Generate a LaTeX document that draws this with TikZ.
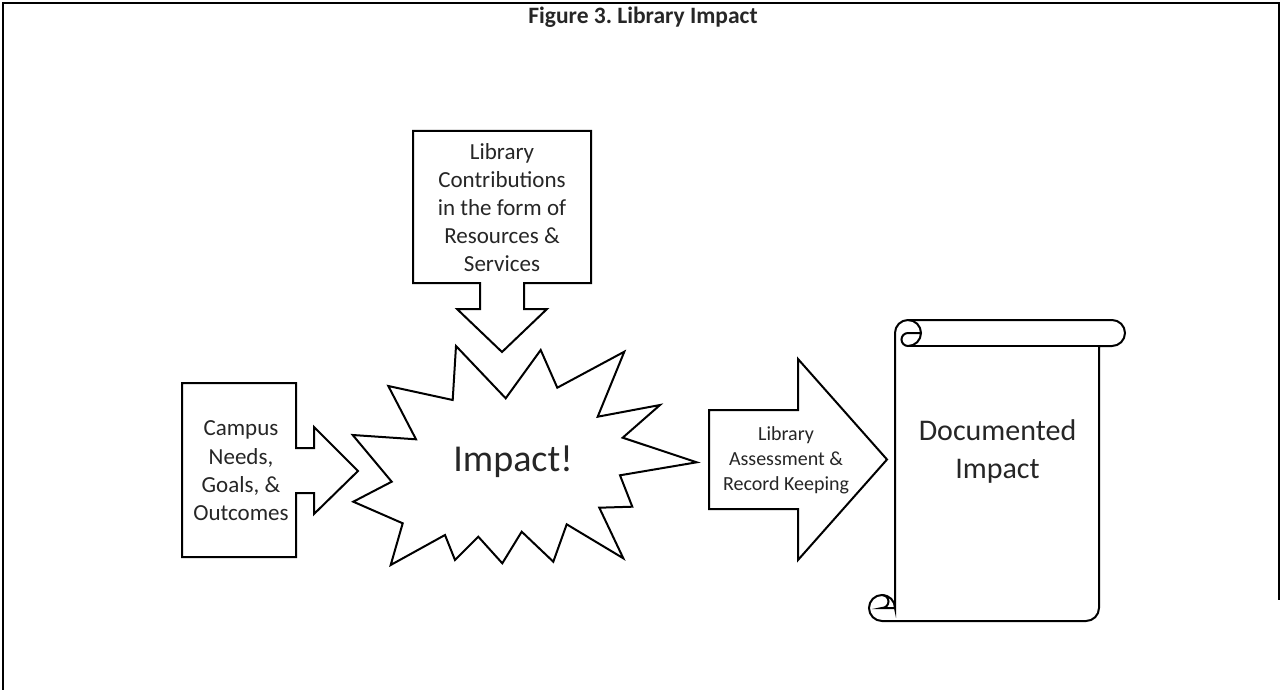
\documentclass[tikz,border=0pt]{standalone}
\usepackage{fontspec}
\setmainfont{Carlito}
\definecolor{txt}{HTML}{262626}
\frenchspacing
\begin{document}
\begin{tikzpicture}[x=1pt,y=-1pt,
  shp/.style={draw=black, line width=2pt, fill=white, line join=miter, miter limit=20},
  lbl/.style={text=txt, align=center, inner sep=0pt},
  frameline/.style={draw=black, line width=1.6pt}]
\useasboundingbox (0,0) rectangle (1282,690);
% frame
\draw[frameline] (3,690) -- (3,3) -- (1279,3) -- (1279,600);
% title
\node[lbl, font=\bfseries\fontsize{23.5}{28}\selectfont] (title) at (643,17) {Figure 3. Library Impact};
% top callout (down arrow)
\draw[shp] (413,131) -- (591,131) -- (591,283) -- (524,283) -- (524,309) -- (547,309)
  -- (502,352) -- (457,309) -- (480,309) -- (480,283) -- (413,283) -- cycle;
\node[lbl, font=\fontsize{23}{28}\selectfont] (contrib) at (502,208)
  {Library\\Contributions\\in the form of\\Resources \&\\Services};
% left callout (right arrow)
\draw[shp] (182,383) -- (296,383) -- (296,448) -- (314,448) -- (314,427) -- (358,471)
  -- (314,514) -- (314,493) -- (296,493) -- (296,557) -- (182,557) -- cycle;
\node[lbl, font=\fontsize{23}{28.4}\selectfont] (campus) at (241,471)
  {Campus\\Needs,\\Goals, \&\\Outcomes};
% star
\draw[shp] (456,346) -- (505.7,398.3) -- (540.7,350) -- (557.3,387.7) -- (624.3,351.7)
  -- (597.7,416.7) -- (660,405) -- (622.7,437.7) -- (696.7,462.3) -- (620,475.3)
  -- (632.3,506.7) -- (599.3,507.7) -- (623.3,558.3) -- (566.7,524.3) -- (553.3,561.7)
  -- (521.7,531.7) -- (502.3,563.3) -- (478.3,536.7) -- (455,560) -- (445,535)
  -- (390.7,565) -- (402.7,523.3) -- (353.3,501.7) -- (391.7,481.7) -- (352.7,435)
  -- (416,439.3) -- (388.3,386) -- (452.7,400) -- cycle;
\node[lbl, font=\fontsize{38}{44}\selectfont] (impact) at (513,462) {Impact!};
% right block arrow
\draw[shp] (709,410) -- (798,410) -- (798,359) -- (887,459.5) -- (798,560) -- (798,509)
  -- (709,509) -- cycle;
\node[lbl, font=\fontsize{20}{25}\selectfont] (assess) at (786,460)
  {Library\\Assessment \&\\Record Keeping};
% scroll
\draw[shp] (895,608) -- (895,333) arc[start angle=180, end angle=270, radius=13]
  -- (1112,320) arc[start angle=270, end angle=450, radius=13]
  -- (1099,346) -- (1099,608) arc[start angle=0, end angle=90, radius=13]
  -- (882,621) arc[start angle=90, end angle=360, radius=13] -- cycle;
\draw[shp, fill=none] (908,320) arc[start angle=270, end angle=450, radius=13]
  arc[start angle=90, end angle=270, radius=6.5] -- (921,333);
\draw[shp, fill=none] (908,346) -- (1099,346);
\draw[shp, fill=none] (882,595) arc[start angle=270, end angle=450, radius=6.5] -- (895,608);
\node[lbl, font=\fontsize{30}{38}\selectfont] (doc) at (997.5,451) {Documented\\Impact};
\end{tikzpicture}
\end{document}
